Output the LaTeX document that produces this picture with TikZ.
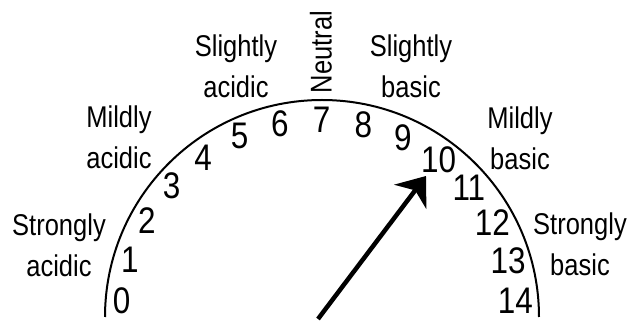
\documentclass[tikz,border=0pt]{standalone}
\usepackage{fontspec}
\setmainfont{Liberation Sans}[FakeStretch=0.85]
\usetikzlibrary{arrows.meta}

\begin{document}
\begin{tikzpicture}[x=1pt, y=1pt,
    zone/.style={align=center, inner sep=0pt, font=\fontsize{30}{41}\selectfont},
    num/.style={inner sep=0pt, font=\fontsize{37}{37}\selectfont}]
    \useasboundingbox (0,0) rectangle (630,321);
    \coordinate (hub) at (322,4);
    \draw[line width=2pt] (105,4) arc[start angle=180, end angle=0, radius=217];
    % pH scale
    \foreach \i in {0,...,14}
        \node[num] (n\i) at ([shift={({175.5-12.2*\i}:{201-0.5*\i})}]hub) {\i};
    \node[zone] (sta) at (59,76) {Strongly\\acidic};
    \node[zone] (mla) at (119,184) {Mildly\\acidic};
    \node[zone] (sla) at (236,255) {Slightly\\acidic};
    \node[zone, rotate=90] (neu) at (321,269) {Neutral};
    \node[zone] (slb) at (411,255) {Slightly\\basic};
    \node[zone] (mlb) at (520,183) {Mildly\\basic};
    \node[zone] (stb) at (580,77) {Strongly\\basic};
    % needle
    \coordinate (tail) at (318,2);
    \coordinate (tip) at (426,145);
    \draw[line width=4.5pt, -{Stealth[length=26pt, width=40pt, inset=8pt]}] (tail) -- (tip);
\end{tikzpicture}
\end{document}
